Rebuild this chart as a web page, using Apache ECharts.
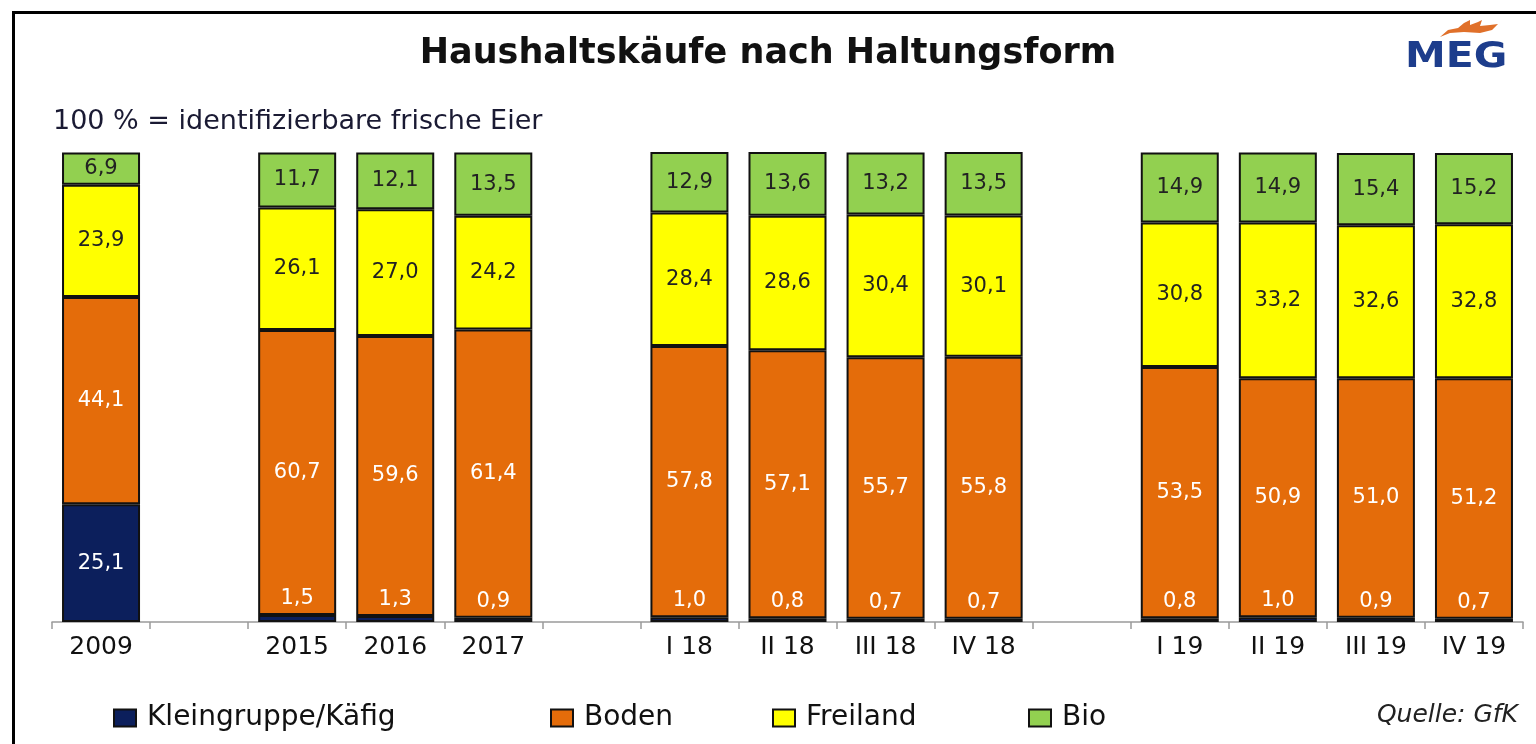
<!DOCTYPE html>
<html>
<head>
<meta charset="utf-8">
<script src="https://cdn.jsdelivr.net/npm/echarts@6/dist/echarts.min.js"></script>
<style>
  html, body { margin: 0; padding: 0; background: #fff; }
  #chart { width: 1536px; height: 744px; }
</style>
</head>
<body>
<div id="chart"></div>
<script>
// categories (empty strings are the gaps between groups)
const categories = ["2009", "", "2015", "2016", "2017", "", "I 18", "II 18", "III 18", "IV 18", "", "I 19", "II 19", "III 19", "IV 19"];
const kaefig   = [25.1, null, 1.5, 1.3, 0.9, null, 1.0, 0.8, 0.7, 0.7, null, 0.8, 1.0, 0.9, 0.7];
const boden    = [44.1, null, 60.7, 59.6, 61.4, null, 57.8, 57.1, 55.7, 55.8, null, 53.5, 50.9, 51.0, 51.2];
const freiland = [23.9, null, 26.1, 27.0, 24.2, null, 28.4, 28.6, 30.4, 30.1, null, 30.8, 33.2, 32.6, 32.8];
const bio      = [6.9, null, 11.7, 12.1, 13.5, null, 12.9, 13.6, 13.2, 13.5, null, 14.9, 14.9, 15.4, 15.2];
const seriesNames = ["Kleingruppe/Käfig", "Boden", "Freiland", "Bio"];

const FONT = "DejaVu Sans";
const fmt = (p) => p.value.toFixed(1).replace(".", ",");

function makeSeries(name, data, color, labelColor, smallOnTop) {
  return {
    name: name,
    type: "bar",
    stack: "all",
    barWidth: 78,
    itemStyle: { color: color, borderColor: "#111", borderWidth: 2 },
    label: {
      show: true,
      position: "inside",
      formatter: fmt,
      color: labelColor,
      fontFamily: FONT,
      fontSize: 21,
    },
    data: data.map((v) => {
      if (v == null) return "-";
      if (smallOnTop && v < 5) {
        return { value: v, label: { position: "top", distance: 6 } };
      }
      return v;
    }),
  };
}

const chart = echarts.init(document.getElementById("chart"));
chart.setOption({
  backgroundColor: "#fff",
  animation: false,
  title: [
    {
      text: "Haushaltskäufe nach Haltungsform",
      left: "center",
      top: 31,
      textStyle: { fontFamily: FONT, fontSize: 35, fontWeight: "bold", color: "#111" },
    },
    {
      text: "100 % = identifizierbare frische Eier",
      left: 48,
      top: 103,
      textStyle: { fontFamily: FONT, fontSize: 27, fontWeight: "normal", color: "#1a1a33" },
    },
  ],
  legend: seriesNames.map((n, i) => ({
    data: [n],
    left: [108, 545, 767, 1023][i],
    top: 699,
    icon: "rect",
    itemWidth: 22,
    itemHeight: 17,
    itemGap: 0,
    selectedMode: false,
    textStyle: { fontFamily: FONT, fontSize: 28, color: "#111", padding: [0, 0, 0, 6] },
  })),
  grid: { left: 52, right: 13, top: 152, bottom: 122 },
  xAxis: {
    type: "category",
    data: categories,
    axisLine: { lineStyle: { color: "#9a9a9a", width: 1.5 } },
    axisTick: { show: true, interval: 0, length: 7, lineStyle: { color: "#9a9a9a", width: 1.5 } },
    axisLabel: { interval: 0, margin: 13, fontFamily: FONT, fontSize: 25, color: "#111" },
  },
  yAxis: { type: "value", min: 0, max: 100.1, show: false },
  series: [
    makeSeries(seriesNames[0], kaefig, "#0c1f5c", "#fff", true),
    makeSeries(seriesNames[1], boden, "#e46c0a", "#fff", false),
    makeSeries(seriesNames[2], freiland, "#ffff00", "#222", false),
    makeSeries(seriesNames[3], bio, "#92d050", "#222", false),
  ],
  graphic: [
    {
      type: "rect",
      shape: { x: 13.5, y: 12.5, width: 1540, height: 800 },
      style: { fill: "none", stroke: "#000", lineWidth: 3 },
      silent: true,
    },
    {
      type: "text",
      x: 1405,
      y: 40,
      scaleX: 1.17,
      style: { text: "MEG", fontFamily: FONT, fontSize: 35, fontWeight: "bold", fill: "#1d3d8c" },
    },
    {
      // small orange flame above the logo
      type: "polygon",
      x: 1440,
      y: 20,
      shape: { points: [[0, 17], [8, 10], [18, 8], [24, 3], [30, 0], [30, 5], [38, 2], [42, 0], [40, 6], [50, 5], [58, 4], [52, 10], [40, 13], [24, 12], [10, 13]] },
      style: { fill: "#e0702a" },
    },
    {
      type: "text",
      right: 18,
      top: 703,
      style: { text: "Quelle: GfK", fontFamily: FONT, fontSize: 25, fontStyle: "italic", fill: "#222" },
    },
  ],
});
</script>
</body>
</html>
